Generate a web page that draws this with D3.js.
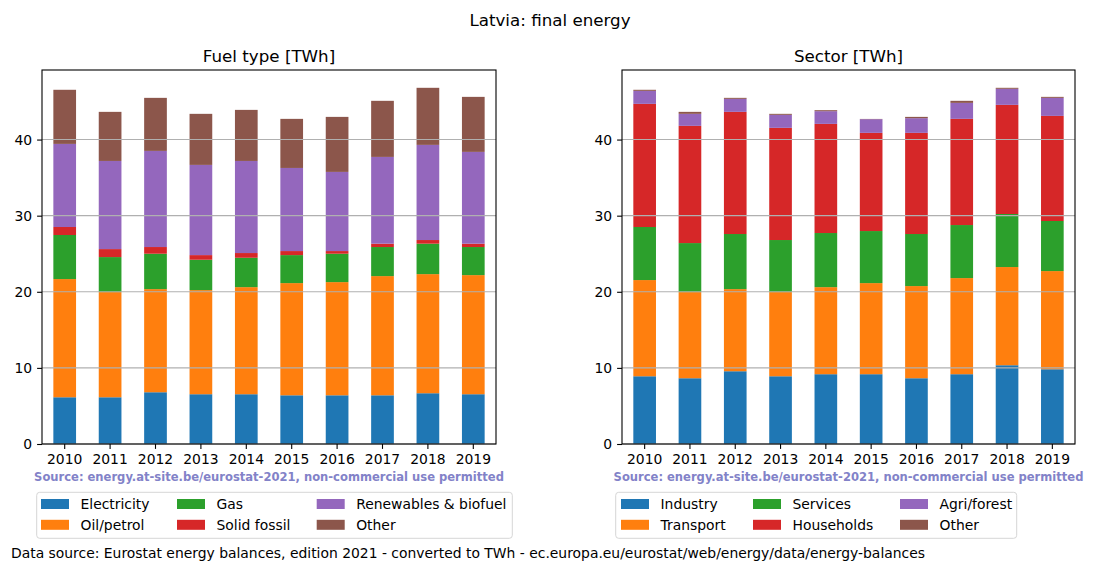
<!DOCTYPE html>
<html>
<head>
<meta charset="utf-8">
<script src="https://cdn.jsdelivr.net/npm/d3@7"></script>
<style>
  html, body { margin: 0; padding: 0; background: #fff; }
  svg { display: block; font-family: "DejaVu Sans", sans-serif; }
</style>
</head>
<body>
<svg id="chart" width="1100" height="572"></svg>
<script>
const years = ["2010","2011","2012","2013","2014","2015","2016","2017","2018","2019"];
const yTicks = [0, 10, 20, 30, 40];

// Fuel type [TWh]
const fuelNames = ["Electricity","Oil/petrol","Gas","Solid fossil","Renewables & biofuel","Other"];
const electricity = [6.14, 6.14, 6.80, 6.54, 6.54, 6.40, 6.40, 6.40, 6.67, 6.54];
const oilPetrol   = [15.53, 13.82, 13.55, 13.68, 14.07, 14.74, 14.87, 15.66, 15.65, 15.65];
const gas         = [5.79, 4.60, 4.65, 3.99, 3.86, 3.68, 3.73, 3.82, 4.00, 3.69];
const solidFossil = [1.05, 1.05, 0.88, 0.61, 0.62, 0.53, 0.35, 0.44, 0.48, 0.44];
const renewables  = [10.92, 11.58, 12.63, 11.85, 12.10, 10.92, 10.40, 11.40, 12.50, 12.06];
const fuelOther   = [7.11, 6.45, 6.97, 6.71, 6.71, 6.45, 7.23, 7.37, 7.50, 7.23];

// Sector [TWh]
const sectorNames = ["Industry","Transport","Services","Households","Agri/forest","Other"];
const industry    = [8.90, 8.64, 9.56, 8.90, 9.17, 9.17, 8.64, 9.17, 10.35, 9.82];
const transport   = [12.64, 11.32, 10.79, 11.06, 11.44, 11.97, 12.11, 12.63, 12.90, 12.90];
const services    = [6.97, 6.44, 7.24, 6.84, 7.11, 6.84, 6.84, 6.97, 6.97, 6.58];
const households  = [16.18, 15.40, 16.05, 14.74, 14.34, 12.90, 13.29, 13.95, 14.34, 13.81];
const agriForest  = [1.71, 1.58, 1.71, 1.71, 1.67, 1.80, 1.93, 2.10, 2.11, 2.37];
const sectorOther = [0.14, 0.26, 0.13, 0.13, 0.13, 0.03, 0.17, 0.27, 0.13, 0.13];

const colors = ["#1f77b4","#ff7f0e","#2ca02c","#d62728","#9467bd","#8c564b"];

const svg = d3.select("#chart");

svg.append("text").attr("x", 550).attr("y", 26).attr("text-anchor", "middle")
  .attr("font-size", "16.7px").attr("fill", "#000").text("Latvia: final energy");

function panel(opts) {
  const { x0, x1, title, names, series, legend } = opts;
  const y0 = 444, yTop = 70;
  const rows = years.map((yr, i) => {
    const o = { year: yr };
    names.forEach((n, k) => { o[n] = series[k][i]; });
    return o;
  });
  const stack = d3.stack().keys(names)(rows);
  const maxTotal = d3.max(rows, r => d3.sum(names, n => r[n]));
  const x = d3.scaleBand().domain(years).range([x0, x1]).paddingInner(0.5).paddingOuter(0.25);
  const y = d3.scaleLinear().domain([0, maxTotal * 1.05]).range([y0, yTop]);

  const g = svg.append("g");
  // bars
  stack.forEach((layer, k) => {
    g.append("g").attr("fill", colors[k]).selectAll("rect").data(layer).join("rect")
      .attr("x", d => x(d.data.year))
      .attr("width", x.bandwidth())
      .attr("y", d => y(d[1]))
      .attr("height", d => Math.max(0, y(d[0]) - y(d[1])));
  });
  // grid on top
  g.append("g").selectAll("line").data(yTicks).join("line")
    .attr("x1", x0).attr("x2", x1)
    .attr("y1", d => y(d)).attr("y2", d => y(d))
    .attr("stroke", "#b0b0b0").attr("stroke-width", 1.1);

  // axes
  const yAxis = d3.axisLeft(y).tickValues(yTicks).tickSize(4.9).tickPadding(4.9);
  const ya = g.append("g").attr("transform", `translate(${x0},0)`).call(yAxis);
  const xAxis = d3.axisBottom(x).tickSize(4.9).tickPadding(4.9);
  const xa = g.append("g").attr("transform", `translate(0,${y0})`).call(xAxis);
  [ya, xa].forEach(a => {
    a.select(".domain").remove();
    a.selectAll(".tick line").attr("stroke", "#000").attr("stroke-width", 1.1);
    a.selectAll(".tick text").attr("font-size", "13.9px").attr("fill", "#000")
      .attr("font-family", "DejaVu Sans, sans-serif");
  });
  // frame
  g.append("rect").attr("x", x0).attr("y", yTop).attr("width", x1 - x0).attr("height", y0 - yTop)
    .attr("fill", "none").attr("stroke", "#000").attr("stroke-width", 1.1);

  // title
  svg.append("text").attr("x", (x0 + x1) / 2).attr("y", 62).attr("text-anchor", "middle")
    .attr("font-size", "16.7px").attr("fill", "#000").text(title);

  // source
  svg.append("text").attr("x", (x0 + x1) / 2).attr("y", 481).attr("text-anchor", "middle")
    .attr("font-size", "11.55px").attr("font-weight", "bold").attr("fill", "#8282c8")
    .text("Source: energy.at-site.be/eurostat-2021, non-commercial use permitted");

  // legend
  const lg = svg.append("g");
  lg.append("rect").attr("x", legend.bx0).attr("y", 492.3)
    .attr("width", legend.bx1 - legend.bx0).attr("height", 46)
    .attr("rx", 3).attr("fill", "#fff").attr("fill-opacity", 0.8)
    .attr("stroke", "#d6d6d6").attr("stroke-width", 1);
  names.forEach((n, k) => {
    const col = Math.floor(k / 2), row = k % 2;
    const px = legend.cols[col];
    const py = 499 + row * 20.8;
    lg.append("rect").attr("x", px).attr("y", py).attr("width", 28).attr("height", 10)
      .attr("fill", colors[k]);
    lg.append("text").attr("x", px + 39.5).attr("y", py + 10).attr("font-size", "13.9px")
      .attr("fill", "#000").text(n);
  });
}

panel({ x0: 42, x1: 496, title: "Fuel type [TWh]", names: fuelNames,
  series: [electricity, oilPetrol, gas, solidFossil, renewables, fuelOther],
  legend: { bx0: 36.7, bx1: 512.3, cols: [41, 177, 316.7] } });

panel({ x0: 622, x1: 1075, title: "Sector [TWh]", names: sectorNames,
  series: [industry, transport, services, households, agriForest, sectorOther],
  legend: { bx0: 615.7, bx1: 1016.7, cols: [621, 753, 900] } });

svg.append("text").attr("x", 11).attr("y", 558).attr("font-size", "13.9px").attr("fill", "#000")
  .text("Data source: Eurostat energy balances, edition 2021 - converted to TWh - ec.europa.eu/eurostat/web/energy/data/energy-balances");
</script>
</body>
</html>
